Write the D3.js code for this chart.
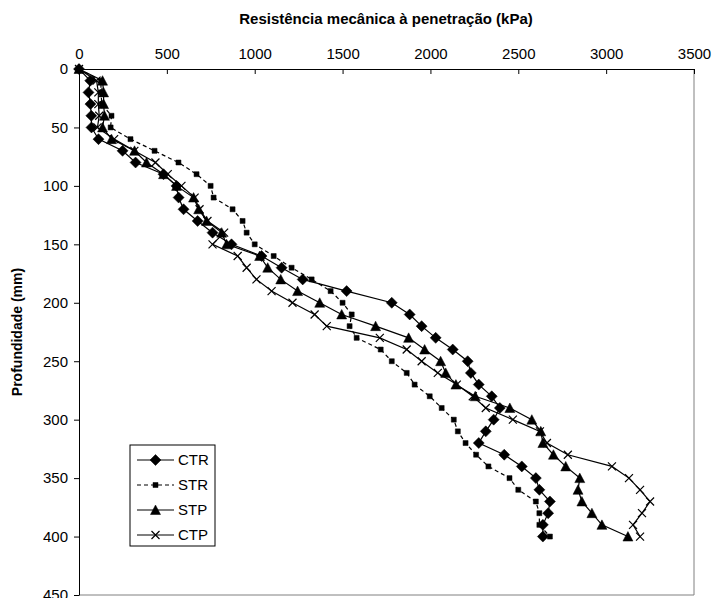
<!DOCTYPE html>
<html>
<head>
<meta charset="utf-8">
<script src="https://cdn.jsdelivr.net/npm/d3@7"></script>
<style>
  body { margin: 0; background: #fff; }
  text { font-family: "Liberation Sans", Arial, sans-serif; }
</style>
</head>
<body>
<svg id="chart"></svg>
<script>
// profundidade (mm)
var depths = [0, 10, 20, 30, 40, 50, 60, 70, 80, 90, 100, 110, 120, 130, 140, 150, 160, 170, 180, 190, 200,
              210, 220, 230, 240, 250, 260, 270, 280, 290, 300, 310, 320, 330, 340, 350, 360, 370, 380, 390, 400];

// resistencia (kPa) por tratamento
var ctr = [0, 64, 54, 65, 70, 71, 111, 248, 322, 481, 555, 567, 595, 675, 760, 868, 1039, 1153, 1273, 1523, 1780,
           1882, 1950, 2030, 2127, 2212, 2230, 2275, 2349, 2395, 2360, 2315, 2275, 2420, 2520, 2600, 2620, 2680, 2670, 2640, 2640];
var str = [0, 125, 125, 130, 185, 180, 293, 430, 566, 669, 749, 766, 874, 931, 954, 1000, 1108, 1210, 1324, 1432, 1500,
           1552, 1540, 1580, 1717, 1780, 1865, 1910, 1996, 2064, 2133, 2156, 2200, 2260, 2330, 2450, 2500, 2600, 2620, 2620, 2680];
var stp = [0, 134, 140, 140, 145, 134, 185, 316, 384, 481, 555, 652, 681, 726, 812, 840, 1028, 1074, 1148, 1244, 1370,
           1495, 1688, 1876, 1967, 2058, 2087, 2145, 2255, 2452, 2577, 2628, 2640, 2700, 2770, 2850, 2840, 2862, 2919, 2976, 3124];
var ctp = [0, 100, 110, 110, 115, 105, 200, 315, 435, 505, 583, 658, 686, 731, 826, 760, 903, 954, 1010, 1096, 1215,
           1341, 1410, 1712, 1865, 1950, 2042, 2150, 2241, 2315, 2469, 2623, 2663, 2782, 3033, 3130, 3193, 3250, 3204, 3153, 3193];

var seriesNames = ["CTR", "STR", "STP", "CTP"];
var xTicks = [0, 500, 1000, 1500, 2000, 2500, 3000, 3500];
var yTicks = [0, 50, 100, 150, 200, 250, 300, 350, 400, 450];

var svgWidth = 717, svgHeight = 598;
var margin = { top: 69, right: 23, bottom: 3, left: 79 };
var width = svgWidth - margin.left - margin.right;
var height = svgHeight - margin.top - margin.bottom;

var svg = d3.select("#chart")
    .attr("width", svgWidth)
    .attr("height", svgHeight);

var g = svg.append("g")
    .attr("transform", "translate(" + margin.left + "," + margin.top + ")");

var x = d3.scaleLinear().domain([0, 3500]).range([0, width]);
var y = d3.scaleLinear().domain([0, 450]).range([0, height]);

// marker shapes
function markerPath(kind) {
    if (kind == "CTR") return "M0,-5.5L5.5,0L0,5.5L-5.5,0Z";
    if (kind == "STR") return "M-2.5,-2.5H2.5V2.5H-2.5Z";
    if (kind == "STP") return "M0,-5L5,4.5H-5Z";
    return "M-4,-4L4,4M-4,4L4,-4";
}

// plot area border (right and bottom)
g.append("path")
    .attr("d", "M" + width + ",0V" + height + "H0")
    .attr("fill", "none")
    .attr("stroke", "#808080")
    .attr("stroke-width", 1);

var series = [
    { name: "CTR", values: ctr, dash: null },
    { name: "STR", values: str, dash: "4,3" },
    { name: "STP", values: stp, dash: null },
    { name: "CTP", values: ctp, dash: null }
];

var line = d3.line()
    .x(function(d) { return x(d.v); })
    .y(function(d) { return y(d.d); });

series.forEach(function(s) {
    var pts = depths.map(function(d, i) { return { d: d, v: s.values[i] }; });
    var sg = g.append("g");
    sg.append("path")
        .datum(pts)
        .attr("fill", "none")
        .attr("stroke", "#000")
        .attr("stroke-width", 1.2)
        .attr("stroke-dasharray", s.dash)
        .attr("d", line);
    sg.selectAll("path.m")
        .data(pts)
        .enter().append("path")
        .attr("class", "m")
        .attr("transform", function(d) { return "translate(" + x(d.v) + "," + y(d.d) + ")"; })
        .attr("d", markerPath(s.name))
        .attr("fill", s.name == "CTP" ? "none" : "#000")
        .attr("stroke", "#000")
        .attr("stroke-width", s.name == "CTP" ? 1.2 : 0.5);
});

// top axis
var xAxis = g.append("g")
    .call(d3.axisTop(x).tickValues(xTicks).tickFormat(d3.format("d"))
        .tickSizeInner(-5).tickSizeOuter(0).tickPadding(10));
xAxis.select(".domain").attr("stroke", "#000");
xAxis.selectAll("text").style("font-size", "15px").attr("fill", "#000");

var yAxis = g.append("g")
    .call(d3.axisLeft(y).tickValues(yTicks).tickFormat(d3.format("d"))
        .tickSize(5).tickSizeOuter(0).tickPadding(6));
yAxis.select(".domain").attr("stroke", "#000");
yAxis.selectAll("text").style("font-size", "15px").attr("fill", "#000");

svg.append("text")
    .attr("x", 386)
    .attr("y", 24)
    .attr("text-anchor", "middle")
    .style("font-size", "15px")
    .style("font-weight", "bold")
    .text("Resistência mecânica à penetração (kPa)");

svg.append("text")
    .attr("transform", "translate(22," + (margin.top + height / 2) + ") rotate(-90)")
    .attr("text-anchor", "middle")
    .style("font-size", "14px")
    .style("font-weight", "bold")
    .text("Profundidade (mm)");

// legend
var legend = svg.append("g").attr("transform", "translate(130,445)");
legend.append("rect")
    .attr("width", 85)
    .attr("height", 101)
    .attr("fill", "#fff")
    .attr("stroke", "#000");

series.forEach(function(s, i) {
    var ly = 15 + i * 25;
    legend.append("line")
        .attr("x1", 7).attr("x2", 44)
        .attr("y1", ly).attr("y2", ly)
        .attr("stroke", "#000")
        .attr("stroke-width", 1.2)
        .attr("stroke-dasharray", s.dash);
    legend.append("path")
        .attr("transform", "translate(25.5," + ly + ")")
        .attr("d", markerPath(s.name))
        .attr("fill", s.name == "CTP" ? "none" : "#000")
        .attr("stroke", "#000")
        .attr("stroke-width", s.name == "CTP" ? 1.2 : 0.5);
    legend.append("text")
        .attr("x", 48)
        .attr("y", ly + 5)
        .style("font-size", "15px")
        .text(seriesNames[i]);
});
</script>
</body>
</html>
